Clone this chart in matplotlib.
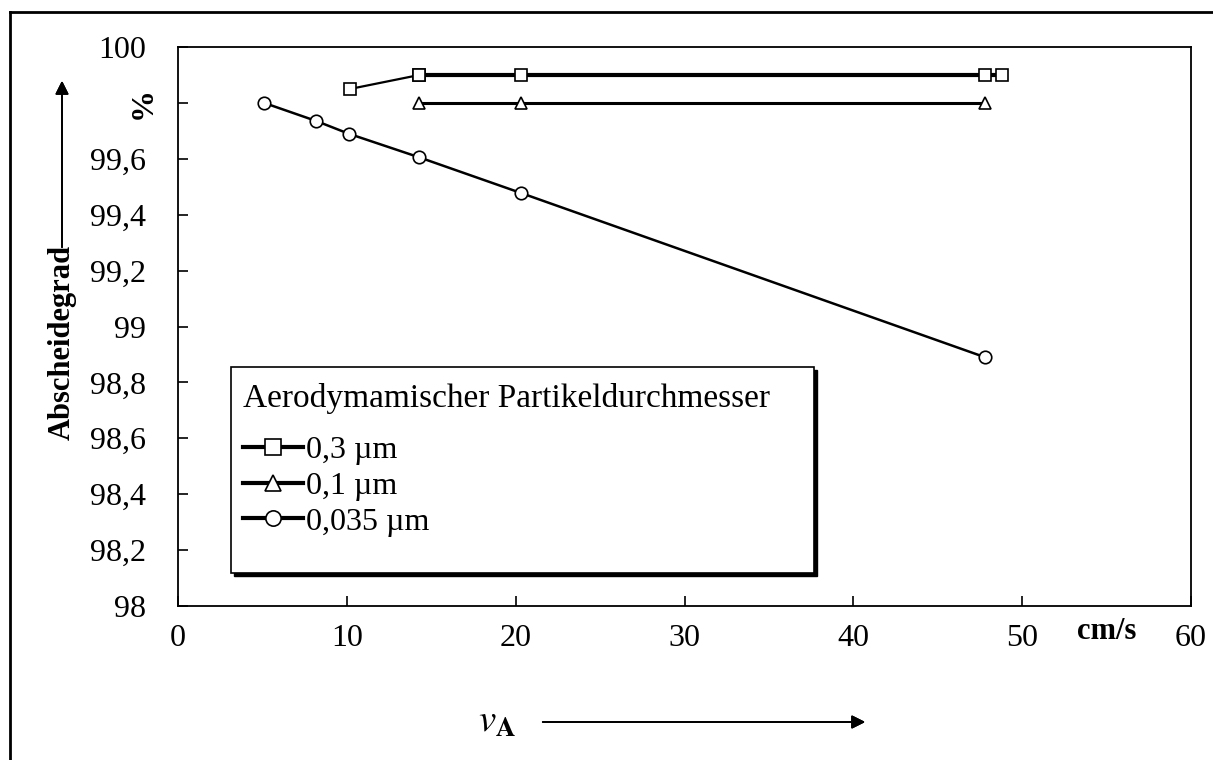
import matplotlib.pyplot as plt
from matplotlib.lines import Line2D
from matplotlib.patches import Rectangle

plt.rcParams['font.family'] = ['Liberation Serif', 'DejaVu Serif']
plt.rcParams['mathtext.fontset'] = 'stix'

# 0,3 um
x_03 = [10.2, 14.3, 20.3, 47.8, 48.8]
y_03 = [99.85, 99.90, 99.90, 99.90, 99.90]
# 0,1 um
x_01 = [14.3, 20.3, 47.8]
y_01 = [99.80, 99.80, 99.80]
# 0,035 um
x_0035 = [5.1, 8.2, 10.1, 14.3, 20.3, 47.8]
y_0035 = [99.80, 99.735, 99.69, 99.605, 99.478, 98.89]

legend_title = 'Aerodymamischer Partikeldurchmesser'
labels = ['0,3 µm', '0,1 µm', '0,035 µm']
xticks = [0, 10, 20, 30, 40, 50, 60]
yticks = [98, 98.2, 98.4, 98.6, 98.8, 99, 99.2, 99.4, 99.6, 99.8, 100]
ytick_labels = ['98', '98,2', '98,4', '98,6', '98,8', '99', '99,2', '99,4', '99,6', '', '100']

W, H = 1213, 760
fig = plt.figure(figsize=(W/100, H/100), dpi=100)
ax = fig.add_axes([178/W, 1-606/H, (1191-178)/W, (606-47)/H])

mk = dict(markersize=9, markerfacecolor='white', markeredgecolor='black', markeredgewidth=1.2)
ax.plot(x_03[:2], y_03[:2], color='black', lw=1.6, marker='s', zorder=3, **mk)
ax.plot(x_03[1:], y_03[1:], color='black', lw=3.0, marker='s', zorder=3, **mk)
ax.plot(x_01, y_01, color='black', lw=2.2, marker='^', zorder=3, **mk)
ax.plot(x_0035, y_0035, color='black', lw=1.8, marker='o', zorder=3, **mk)

ax.set_xlim(0, 60)
ax.set_ylim(98, 100)
ax.set_xticks(xticks)
ax.set_xticklabels([str(t) for t in xticks])
ax.set_yticks(yticks)
ax.set_yticklabels(ytick_labels)
ax.tick_params(axis='x', direction='in', length=7, width=1.2, pad=13, labelsize=23)
ax.tick_params(axis='y', direction='in', length=7, width=1.2, pad=23, labelsize=23)
for s in ax.spines.values():
    s.set_linewidth(1.3)

# units in place of tick labels
ax.text(-0.02, 99.8, '%', transform=ax.get_yaxis_transform(), rotation=90,
        ha='right', va='center', fontsize=23, fontweight='bold')
ax.text(55, -0.02, 'cm/s', transform=ax.get_xaxis_transform(),
        ha='center', va='top', fontsize=22, fontweight='bold')

# axis labels with arrows
fig.text(62/W, 1-342/H, 'Abscheidegrad', rotation=90, ha='center', va='center',
         fontsize=22, fontweight='bold')
fig.add_artist(plt.annotate('', xy=(62/W, 1-78/H), xytext=(62/W, 1-250/H),
                            xycoords='figure fraction',
                            arrowprops=dict(arrowstyle='-|>', color='black', lw=1.3, mutation_scale=20)))
fig.text(497/W, 1-722/H, r'$\mathit{v}_{\mathbf{A}}$', ha='center', va='center', fontsize=28)
fig.add_artist(plt.annotate('', xy=(868/W, 1-722/H), xytext=(540/W, 1-722/H),
                            xycoords='figure fraction',
                            arrowprops=dict(arrowstyle='-|>', color='black', lw=1.3, mutation_scale=20)))

# legend box with shadow
bx0, by0, bx1, by1 = 231, 367, 814, 573
def ax_frac(px, py):
    return (px-178)/1013, (606-py)/559
sx, sy = ax_frac(bx0+3, by1+3)
ax.add_patch(Rectangle((sx, sy), (bx1-bx0)/1013, (by1-by0)/559, transform=ax.transAxes,
                       facecolor='black', edgecolor='black', zorder=4))
rx, ry = ax_frac(bx0, by1)
ax.add_patch(Rectangle((rx, ry), (bx1-bx0)/1013, (by1-by0)/559, transform=ax.transAxes,
                       facecolor='white', edgecolor='black', lw=1.2, zorder=4))

mk_leg = dict(mk, markersize=11)
handles = [Line2D([], [], color='black', lw=3, marker=m, **mk_leg) for m in ['s', '^', 'o']]
leg = ax.legend(handles, labels, title=legend_title, loc='upper left',
                bbox_to_anchor=ax_frac(bx0 + 2, by0 + 6), fontsize=23, title_fontsize=24,
                frameon=False, handlelength=1.9, handletextpad=0.1, labelspacing=0.2,
                borderpad=0.3, borderaxespad=0)
leg.set_zorder(5)
leg._legend_box.align = 'left'
leg._legend_box.sep = 16

# outer frame: top and left lines
fig.add_artist(Line2D([10/W, 1], [1-12/H, 1-12/H], color='black', lw=2))
fig.add_artist(Line2D([10/W, 10/W], [0, 1-12/H], color='black', lw=2))

fig.savefig('out.png', dpi=100)
